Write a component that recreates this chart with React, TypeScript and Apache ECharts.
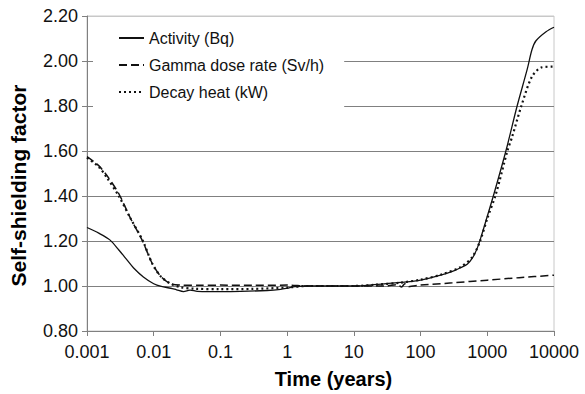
import React, { useEffect, useRef } from "react";
import * as echarts from "echarts";

const seriesNames = ["Activity (Bq)", "Gamma dose rate (Sv/h)", "Decay heat (kW)"];

const activity: [number, number][] = [
  [0.001, 1.26], [0.0015, 1.235], [0.0022, 1.205], [0.003, 1.16], [0.004, 1.115],
  [0.005, 1.08], [0.007, 1.04], [0.01, 1.01], [0.013, 0.998], [0.018, 0.99],
  [0.022, 0.983], [0.028, 0.975], [0.035, 0.982], [0.045, 0.976], [0.07, 0.975],
  [0.1, 0.975], [0.2, 0.976], [0.5, 0.98], [0.8, 0.985], [1, 0.99], [1.3, 0.997],
  [2, 1.0], [5, 1.0], [10, 1.0], [20, 1.006], [50, 1.016], [100, 1.026],
  [200, 1.048], [300, 1.065], [400, 1.082], [500, 1.097], [600, 1.125], [700, 1.165],
  [800, 1.215], [1000, 1.31], [1260, 1.41], [1900, 1.6], [2800, 1.8], [3980, 1.965],
  [4670, 2.05], [5370, 2.09], [7600, 2.13], [10000, 2.15],
];

const gammaDose: [number, number][] = [
  [0.001, 1.575], [0.0015, 1.535], [0.002, 1.49], [0.003, 1.41], [0.0045, 1.3],
  [0.0068, 1.2], [0.0095, 1.1], [0.013, 1.04], [0.018, 1.01], [0.025, 1.004],
  [0.05, 1.003], [0.1, 1.004], [0.3, 1.003], [1, 1.004], [2, 1.0], [10, 1.0],
  [30, 1.0], [45, 1.006], [52, 0.996], [58, 1.01], [65, 0.997], [100, 1.004],
  [300, 1.014], [1000, 1.026], [3000, 1.037], [10000, 1.048],
];

const decayHeat: [number, number][] = [
  [0.001, 1.57], [0.0015, 1.53], [0.002, 1.48], [0.003, 1.4], [0.0045, 1.3],
  [0.0069, 1.2], [0.0095, 1.1], [0.013, 1.04], [0.018, 1.01], [0.025, 0.995],
  [0.04, 0.988], [0.1, 0.986], [0.3, 0.987], [1, 0.993], [2, 1.0], [10, 1.0],
  [20, 1.005], [50, 1.015], [100, 1.028], [200, 1.05], [400, 1.085], [600, 1.13],
  [780, 1.2], [1000, 1.3], [1350, 1.41], [2000, 1.6], [2340, 1.66], [3240, 1.8],
  [4670, 1.93], [6600, 1.972], [10000, 1.975],
];

const yTicks = [0.8, 1.0, 1.2, 1.4, 1.6, 1.8, 2.0, 2.2];

export default function App() {
  const ref = useRef<HTMLDivElement>(null);
  useEffect(() => {
    if (!ref.current) return;
    const chart = echarts.init(ref.current, undefined, { renderer: "svg" });
    const font = "Liberation Sans, Arial, sans-serif";
    const gridColors = yTicks.map((t, i) => (i === yTicks.length - 1 ? "#c8c8c8" : "#808080"));
    chart.setOption({
      animation: false,
      backgroundColor: "#fff",
      grid: {
        left: 86,
        right: 31,
        top: 16,
        bottom: 58,
        show: true,
        borderColor: "#c8c8c8",
        borderWidth: 1,
      },
      legend: {
        left: 93,
        top: 22,
        orient: "vertical",
        backgroundColor: "#fff",
        padding: [8, 20, 8, 25],
        itemWidth: 25,
        itemHeight: 16,
        itemGap: 11,
        data: seriesNames,
        itemStyle: { color: "transparent", borderWidth: 0, opacity: 0 },
        textStyle: { fontFamily: font, fontSize: 16, color: "#111" },
      },
      xAxis: {
        type: "log",
        logBase: 10,
        min: 0.001,
        max: 10000,
        name: "Time (years)",
        nameLocation: "middle",
        nameGap: 38,
        nameTextStyle: {
          fontFamily: font,
          fontSize: 20,
          fontWeight: "bold",
          color: "#000",
          padding: [0, 0, 0, 26],
        },
        axisLine: { show: true, lineStyle: { color: "#808080", width: 1 } },
        axisTick: { show: true, inside: false, length: 5, lineStyle: { color: "#808080" } },
        minorTick: { show: false },
        splitLine: { show: false },
        axisLabel: {
          fontFamily: font,
          fontSize: 18,
          color: "#111",
          margin: 12,
          formatter: (v: number) => {
            const e = Math.round(Math.log10(v));
            return e < 0 ? Math.pow(10, e).toFixed(-e) : String(Math.pow(10, e));
          },
        },
      },
      yAxis: {
        type: "value",
        min: 0.8,
        max: 2.2,
        interval: 0.2,
        name: "Self-shielding factor",
        nameLocation: "middle",
        nameGap: 58,
        nameTextStyle: {
          fontFamily: font,
          fontSize: 21,
          fontWeight: "bold",
          color: "#000",
          padding: [0, 24, 0, 0],
        },
        axisLine: { show: true, lineStyle: { color: "#808080", width: 1 } },
        axisTick: { show: true, inside: false, length: 5, lineStyle: { color: "#808080" } },
        splitLine: { show: true, lineStyle: { color: gridColors, width: 1 } },
        axisLabel: {
          fontFamily: font,
          fontSize: 18,
          color: "#111",
          margin: 9,
          formatter: (v: number) => v.toFixed(2),
        },
      },
      series: [
        {
          name: seriesNames[0],
          type: "line",
          data: activity,
          symbol: "none",
          smooth: 0.3,
          lineStyle: { color: "#111", width: 1.3, type: "solid" },
          itemStyle: { color: "#111" },
          z: 3,
        },
        {
          name: seriesNames[1],
          type: "line",
          data: gammaDose,
          symbol: "none",
          smooth: 0.3,
          lineStyle: { color: "#111", width: 1.5, type: [8, 4] },
          itemStyle: { color: "#111" },
          z: 4,
        },
        {
          name: seriesNames[2],
          type: "line",
          data: decayHeat,
          symbol: "none",
          smooth: 0.3,
          lineStyle: { color: "#111", width: 2.2, type: [2, 3] },
          itemStyle: { color: "#111" },
          z: 5,
        },
      ],
    });
    return () => chart.dispose();
  }, []);
  return <div ref={ref} style={{ width: 585, height: 394, position: "absolute", left: 0, top: 0 }} />;
}
